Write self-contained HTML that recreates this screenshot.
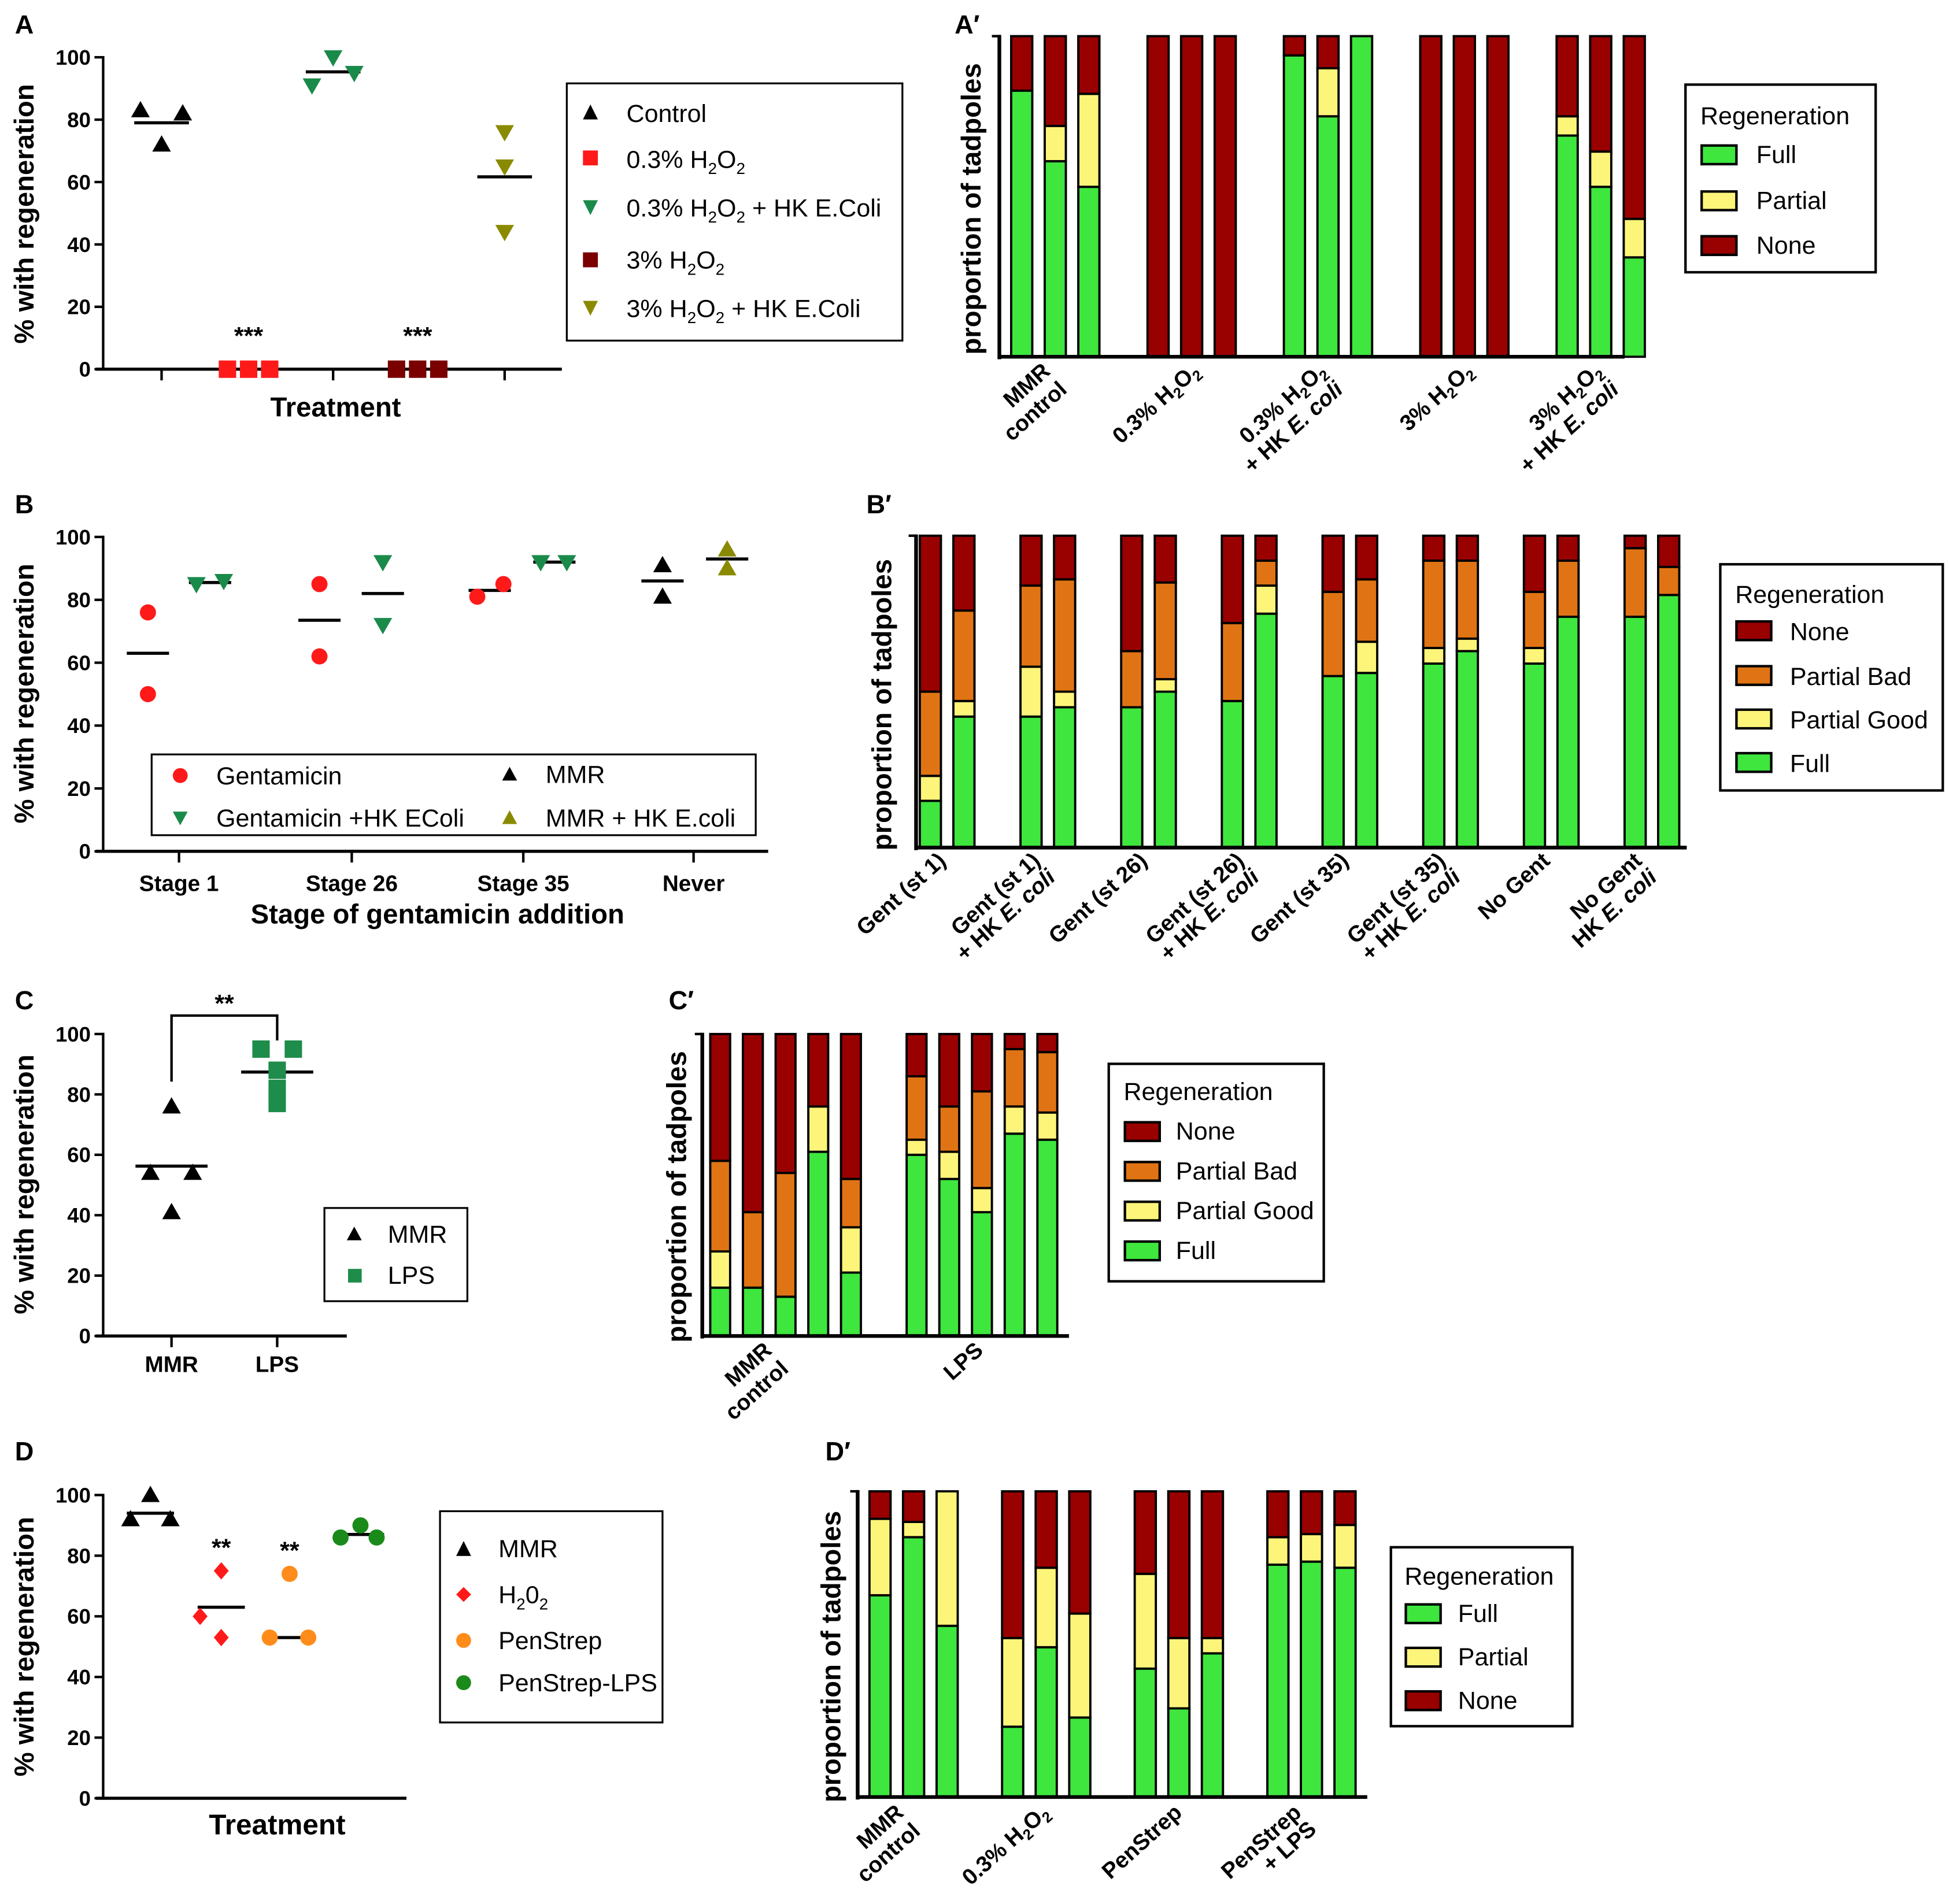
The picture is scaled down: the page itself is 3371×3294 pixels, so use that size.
<!DOCTYPE html>
<html><head><meta charset="utf-8"><style>
html,body{margin:0;padding:0;background:#fff;}
svg{display:block;font-family:"Liberation Sans",sans-serif;}
.tk{font-size:17px;font-weight:bold;}
.lg{font-size:20px;}
.ttl{font-size:22px;font-weight:bold;}
.xl{font-size:18px;font-weight:bold;}
.pl{font-size:21px;font-weight:bold;}
</style></head><body>
<svg id="fig" width="3371" height="3294" viewBox="0 0 1568 1532" xmlns="http://www.w3.org/2000/svg">
<text class="pl" x="12" y="27">A</text>
<text class="pl" x="768" y="27">A′</text>
<text class="pl" x="12" y="413">B</text>
<text class="pl" x="697" y="413">B′</text>
<text class="pl" x="12" y="812">C</text>
<text class="pl" x="538" y="812">C′</text>
<text class="pl" x="12" y="1175">D</text>
<text class="pl" x="664" y="1175">D′</text>

<text class="ttl" transform="translate(27,172) rotate(-90)" text-anchor="middle">% with regeneration</text>
<text class="ttl" transform="translate(27,558) rotate(-90)" text-anchor="middle">% with regeneration</text>
<text class="ttl" transform="translate(27,953) rotate(-90)" text-anchor="middle">% with regeneration</text>
<text class="ttl" transform="translate(27,1325) rotate(-90)" text-anchor="middle">% with regeneration</text>
<text class="ttl" transform="translate(789,168) rotate(-90)" text-anchor="middle">proportion of tadpoles</text>
<text class="ttl" transform="translate(717,567) rotate(-90)" text-anchor="middle">proportion of tadpoles</text>
<text class="ttl" transform="translate(552,963) rotate(-90)" text-anchor="middle">proportion of tadpoles</text>
<text class="ttl" transform="translate(676,1333) rotate(-90)" text-anchor="middle">proportion of tadpoles</text>

<text class="ttl" x="270" y="335" text-anchor="middle">Treatment</text>
<text class="ttl" x="352" y="743" text-anchor="middle">Stage of gentamicin addition</text>
<text class="ttl" x="223" y="1476" text-anchor="middle" style="font-size:23px">Treatment</text>

<g class="xl" text-anchor="middle">
<text x="144" y="717">Stage 1</text><text x="283" y="717">Stage 26</text><text x="421" y="717">Stage 35</text><text x="558" y="717">Never</text>
</g>
<g class="xl" text-anchor="middle">
<text x="138" y="1104">MMR</text><text x="223" y="1104">LPS</text>
</g>

<g class="lg">
<rect x="456" y="67" width="270" height="207" fill="#fff" stroke="#000" stroke-width="1.5"/>
<polygon points="475,84 469,96 481,96" fill="#000"/><text x="504" y="98">Control</text>
<rect x="469" y="121" width="12" height="12" fill="#ff1a1a"/><text x="504" y="135">0.3% H<tspan font-size="13" dy="5">2</tspan><tspan dy="-5">O</tspan><tspan font-size="13" dy="5">2</tspan></text>
<polygon points="469,161 481,161 475,173" fill="#1a8a4a"/><text x="504" y="174">0.3% H<tspan font-size="13" dy="5">2</tspan><tspan dy="-5">O</tspan><tspan font-size="13" dy="5">2</tspan><tspan dy="-5"> + HK E.Coli</tspan></text>
<rect x="469" y="203" width="12" height="12" fill="#7a0000"/><text x="504" y="216">3% H<tspan font-size="13" dy="5">2</tspan><tspan dy="-5">O</tspan><tspan font-size="13" dy="5">2</tspan></text>
<polygon points="469,242 481,242 475,254" fill="#8a8a00"/><text x="504" y="255">3% H<tspan font-size="13" dy="5">2</tspan><tspan dy="-5">O</tspan><tspan font-size="13" dy="5">2</tspan><tspan dy="-5"> + HK E.Coli</tspan></text>
</g>
<g class="lg">
<rect x="1356" y="68" width="153" height="151" fill="#fff" stroke="#000" stroke-width="2"/>
<text x="1368" y="100">Regeneration</text>
<rect x="1369" y="117" width="28" height="15" fill="#3ee63e" stroke="#000" stroke-width="2"/><text x="1413" y="131">Full</text>
<rect x="1369" y="154" width="28" height="15" fill="#fdf57a" stroke="#000" stroke-width="2"/><text x="1413" y="168">Partial</text>
<rect x="1369" y="190" width="28" height="15" fill="#990000" stroke="#000" stroke-width="2"/><text x="1413" y="204">None</text>
</g>
<g class="lg">
<rect x="122" y="607" width="486" height="65" fill="#fff" stroke="#000" stroke-width="1.5"/>
<circle cx="145" cy="624" r="6" fill="#ff1a1a"/><text x="174" y="631">Gentamicin</text>
<polygon points="139,653 151,653 145,664" fill="#1a8a4a"/><text x="174" y="665">Gentamicin +HK EColi</text>
<polygon points="410,617 404,628 416,628" fill="#000"/><text x="439" y="630">MMR</text>
<polygon points="410,652 404,663 416,663" fill="#8a8a00"/><text x="439" y="665">MMR + HK E.coli</text>
</g>
<g class="lg">
<rect x="1384" y="454" width="179" height="182" fill="#fff" stroke="#000" stroke-width="2"/>
<text x="1396" y="485">Regeneration</text>
<rect x="1397" y="500" width="28" height="15" fill="#990000" stroke="#000" stroke-width="2"/><text x="1440" y="515">None</text>
<rect x="1397" y="536" width="28" height="15" fill="#e07414" stroke="#000" stroke-width="2"/><text x="1440" y="551">Partial Bad</text>
<rect x="1397" y="571" width="28" height="15" fill="#fdf57a" stroke="#000" stroke-width="2"/><text x="1440" y="586">Partial Good</text>
<rect x="1397" y="606" width="28" height="15" fill="#3ee63e" stroke="#000" stroke-width="2"/><text x="1440" y="621">Full</text>
</g>
<g class="lg">
<rect x="261" y="972" width="115" height="75" fill="#fff" stroke="#000" stroke-width="1.5"/>
<polygon points="285,987 279,998 291,998" fill="#000"/><text x="312" y="1000">MMR</text>
<rect x="280" y="1021" width="11" height="11" fill="#1e8c4a"/><text x="312" y="1033">LPS</text>
</g>
<g class="lg">
<rect x="892" y="856" width="173" height="175" fill="#fff" stroke="#000" stroke-width="2"/>
<text x="904" y="885">Regeneration</text>
<rect x="905" y="903" width="28" height="15" fill="#990000" stroke="#000" stroke-width="2"/><text x="946" y="917">None</text>
<rect x="905" y="935" width="28" height="15" fill="#e07414" stroke="#000" stroke-width="2"/><text x="946" y="949">Partial Bad</text>
<rect x="905" y="967" width="28" height="15" fill="#fdf57a" stroke="#000" stroke-width="2"/><text x="946" y="981">Partial Good</text>
<rect x="905" y="999" width="28" height="15" fill="#3ee63e" stroke="#000" stroke-width="2"/><text x="946" y="1013">Full</text>
</g>
<g class="lg">
<rect x="354" y="1216" width="179" height="170" fill="#fff" stroke="#000" stroke-width="1.5"/>
<polygon points="373,1240 367,1252 379,1252" fill="#000"/><text x="401" y="1253">MMR</text>
<polygon points="373,1277 379,1283 373,1289 367,1283" fill="#ff1a1a"/><text x="401" y="1290">H<tspan font-size="13" dy="5">2</tspan><tspan dy="-5">0</tspan><tspan font-size="13" dy="5">2</tspan></text>
<circle cx="373" cy="1320" r="6" fill="#ff8c1a"/><text x="401" y="1327">PenStrep</text>
<circle cx="373" cy="1354" r="6" fill="#1a8a1a"/><text x="401" y="1361">PenStrep-LPS</text>
</g>
<g class="lg">
<rect x="1119" y="1245" width="146" height="144" fill="#fff" stroke="#000" stroke-width="2"/>
<text x="1130" y="1275">Regeneration</text>
<rect x="1131" y="1291" width="28" height="15" fill="#3ee63e" stroke="#000" stroke-width="2"/><text x="1173" y="1305">Full</text>
<rect x="1131" y="1326" width="28" height="15" fill="#fdf57a" stroke="#000" stroke-width="2"/><text x="1173" y="1340">Partial</text>
<rect x="1131" y="1361" width="28" height="15" fill="#990000" stroke="#000" stroke-width="2"/><text x="1173" y="1375">None</text>
</g>

<g class="xl" text-anchor="end">
<text transform="translate(846,300) rotate(-42)"><tspan x="0" dy="0">MMR</tspan><tspan x="0" dy="20">control</tspan></text>
<text transform="translate(966,300) rotate(-42)">0.3% H<tspan font-size="12" dy="4">2</tspan><tspan dy="-4">O</tspan><tspan font-size="12" dy="4">2</tspan></text>
<text transform="translate(1068,300) rotate(-42)"><tspan x="0" dy="0">0.3% H<tspan font-size="12" dy="4">2</tspan><tspan dy="-4">O</tspan><tspan font-size="12" dy="4">2</tspan></tspan><tspan x="0" dy="16">+ HK <tspan font-style="italic">E. coli</tspan></tspan></text>
<text transform="translate(1186,300) rotate(-42)">3% H<tspan font-size="12" dy="4">2</tspan><tspan dy="-4">O</tspan><tspan font-size="12" dy="4">2</tspan></text>
<text transform="translate(1290,300) rotate(-42)"><tspan x="0" dy="0">3% H<tspan font-size="12" dy="4">2</tspan><tspan dy="-4">O</tspan><tspan font-size="12" dy="4">2</tspan></tspan><tspan x="0" dy="16">+ HK <tspan font-style="italic">E. coli</tspan></tspan></text>
</g>
<g class="xl" text-anchor="end">
<text transform="translate(762,694) rotate(-42)">Gent (st 1)</text>
<text transform="translate(838,694) rotate(-42)"><tspan x="0" dy="0">Gent (st 1)</tspan><tspan x="0" dy="18">+ HK <tspan font-style="italic">E. coli</tspan></tspan></text>
<text transform="translate(924,694) rotate(-42)">Gent (st 26)</text>
<text transform="translate(1002,694) rotate(-42)"><tspan x="0" dy="0">Gent (st 26)</tspan><tspan x="0" dy="18">+ HK <tspan font-style="italic">E. coli</tspan></tspan></text>
<text transform="translate(1086,694) rotate(-42)">Gent (st 35)</text>
<text transform="translate(1164,694) rotate(-42)"><tspan x="0" dy="0">Gent (st 35)</tspan><tspan x="0" dy="18">+ HK <tspan font-style="italic">E. coli</tspan></tspan></text>
<text transform="translate(1248,694) rotate(-42)">No Gent</text>
<text transform="translate(1322,694) rotate(-42)"><tspan x="0" dy="0">No Gent</tspan><tspan x="0" dy="18">HK <tspan font-style="italic">E. coli</tspan></tspan></text>
</g>
<g class="xl" text-anchor="end">
<text transform="translate(622,1088) rotate(-42)"><tspan x="0" dy="0">MMR</tspan><tspan x="0" dy="20">control</tspan></text>
<text transform="translate(792,1088) rotate(-42)">LPS</text>
</g>
<g class="xl" text-anchor="end">
<text transform="translate(728,1460) rotate(-42)"><tspan x="0" dy="0">MMR</tspan><tspan x="0" dy="20">control</tspan></text>
<text transform="translate(845,1460) rotate(-42)">0.3% H<tspan font-size="12" dy="4">2</tspan><tspan dy="-4">O</tspan><tspan font-size="12" dy="4">2</tspan></text>
<text transform="translate(952,1460) rotate(-42)">PenStrep</text>
<text transform="translate(1048,1460) rotate(-42)"><tspan x="0" dy="0">PenStrep</tspan><tspan x="0" dy="18">+ LPS</tspan></text>
</g>
</svg>
<script>
const yTicks=[0,20,40,60,80,100];
const A_cats=['Control','0.3% H2O2','0.3% H2O2 + HK E.Coli','3% H2O2','3% H2O2 + HK E.Coli'];
const A_vals=[[83,72,82],[0,0,0],[91,100,95],[0,0,0],[76,65,44]];
const A_sig=['','***','','***',''];
const B_stages=['Stage 1','Stage 26','Stage 35','Never'];
const B_gent=[[76,50],[85,62],[81,85],[]];
const B_gentHK=[[85,86],[92,72],[92,92],[]];
const B_mmr=[[],[],[],[91,81]];
const B_mmrHK=[[],[],[],[96,90]];
const C_cats=['MMR','LPS'];
const C_mmr=[76,54,54,41];
const C_lps=[95,95,88,82,77];
const D_cats=['MMR','H2O2','PenStrep','PenStrep-LPS'];
const D_vals=[[92,100,92],[75,60,53],[74,53,53],[86,90,86]];
const D_center=[94,63,53,87];
const D_sig=['','**','**',''];
const Ap_full=[0.83,0.61,0.53,0,0,0,0.94,0.75,1,0,0,0,0.69,0.53,0.31];
const Ap_partial=[0,0.11,0.29,0,0,0,0,0.15,0,0,0,0,0.06,0.11,0.12];
const Bp_full=[0.15,0.42,0.42,0.45,0.45,0.5,0.47,0.75,0.55,0.56,0.59,0.63,0.59,0.74,0.74,0.81];
const Bp_good=[0.08,0.05,0.16,0.05,0,0.04,0,0.09,0,0.1,0.05,0.04,0.05,0,0,0];
const Bp_bad=[0.27,0.29,0.26,0.36,0.18,0.31,0.25,0.08,0.27,0.2,0.28,0.25,0.18,0.18,0.22,0.09];
const Cp_full=[0.16,0.16,0.13,0.61,0.21,0.6,0.52,0.41,0.67,0.65];
const Cp_good=[0.12,0,0,0.15,0.15,0.05,0.09,0.08,0.09,0.09];
const Cp_bad=[0.30,0.25,0.41,0,0.16,0.21,0.15,0.32,0.19,0.2];
const Dp_full=[0.66,0.85,0.56,0.23,0.49,0.26,0.42,0.29,0.47,0.76,0.77,0.75];
const Dp_partial=[0.25,0.05,0.44,0.29,0.26,0.34,0.31,0.23,0.05,0.09,0.09,0.14];

const svg=document.getElementById('fig');
const NS='http://www.w3.org/2000/svg';
function el(tag,attrs,name,parent){
  const e=document.createElementNS(NS,tag);
  for(const k in attrs) e.setAttribute(k,attrs[k]);
  
  
  (parent||svg).appendChild(e);
  return e;
}
const C={red:'#ff1a1a',green:'#1a8a4a',olive:'#8a8a00',dred:'#7a0000',black:'#000',lps:'#1e8c4a',orange:'#ff8c1a',pgreen:'#1a8a1a'};
const BC={full:'#3ee63e',good:'#fdf57a',bad:'#e07414',none:'#990000'};
function marker(type,x,y,color,name){
  const s=7.5;
  if(type==='up') return el('polygon',{points:`${x},${y-s} ${x-s},${y+s*0.75} ${x+s},${y+s*0.75}`,fill:color},name);
  if(type==='down') return el('polygon',{points:`${x-s},${y-s*0.75} ${x+s},${y-s*0.75} ${x},${y+s}`,fill:color},name);
  if(type==='sq') return el('rect',{x:x-7,y:y-7,width:14,height:14,fill:color},name);
  if(type==='circ') return el('circle',{cx:x,cy:y,r:6.5,fill:color},name);
  if(type==='dia') return el('polygon',{points:`${x},${y-7} ${x+6},${y} ${x},${y+7} ${x-6},${y}`,fill:color},name);
}
function scatterAxes(p,ax,y0,y100,xEnd,xTicks){
  const ys=v=>y0-v/100*(y0-y100);
  el('line',{x1:ax,y1:y100-1,x2:ax,y2:y0,stroke:'#000','stroke-width':2},p+'-y-axis');
  el('line',{x1:ax-6,y1:y0,x2:xEnd,y2:y0,stroke:'#000','stroke-width':2.5},p+'-x-axis');
  yTicks.forEach(t=>{
    el('line',{x1:ax-7,y1:ys(t),x2:ax,y2:ys(t),stroke:'#000','stroke-width':2},p+'-y-tick');
    const tx=el('text',{x:ax-10,y:ys(t)+6,'text-anchor':'end',class:'tk'},p+'-y-tick-label');
    tx.textContent=t;
  });
  xTicks.forEach(x=>el('line',{x1:x,y1:y0,x2:x,y2:y0+9,stroke:'#000','stroke-width':2},p+'-x-tick'));
  return ys;
}
function meanLine(x,y,half,name){el('line',{x1:x-half,y1:y,x2:x+half,y2:y,stroke:'#000','stroke-width':2.5},name);}
const mean=a=>a.reduce((s,v)=>s+v,0)/a.length;

{
  const cx=[130,200,268,336,406];
  const ys=scatterAxes('a',83,297,46,452,[130,268,406]);
  const jit=[[-17,0,17],[-17,0,17],[-17,0,17],[-17,0,17],[0,0,0]];
  const types=['up','sq','down','sq','down'];
  const cols=[C.black,C.red,C.green,C.dred,C.olive];
  A_vals.forEach((vals,i)=>{
    if(i!==1&&i!==3) meanLine(cx[i],ys(mean(vals)),22,'a-mean-line');
    vals.forEach((v,j)=>marker(types[i],cx[i]+jit[i][j],ys(v),cols[i],'a-point'));
    if(A_sig[i]){const t=el('text',{x:cx[i],y:ys(0)-20,'text-anchor':'middle',style:'font-size:20px;font-weight:bold'},'a-significance');t.textContent=A_sig[i];}
  });
}
{
  const cx=[144,283,421,558];
  const ys=scatterAxes('b',83,685,432,618,cx);
  const series=[
    {d:B_gent,t:'circ',c:C.red,off:[[-25,-25],[-26,-26],[-37,-16],[]],m:[-25,-26,-27,0]},
    {d:B_gentHK,t:'down',c:C.green,off:[[14,36],[25,25],[14,35],[]],m:[25,25,25,0]},
    {d:B_mmr,t:'up',c:C.black,off:[[],[],[],[-25,-25]],m:[0,0,0,-25]},
    {d:B_mmrHK,t:'up',c:C.olive,off:[[],[],[],[27,27]],m:[0,0,0,27]}
  ];
  series.forEach(s=>{
    s.d.forEach((vals,i)=>{
      if(!vals.length) return;
      meanLine(cx[i]+s.m[i],ys(mean(vals)),17,'b-mean-line');
      vals.forEach((v,j)=>marker(s.t,cx[i]+s.off[i][j],ys(v),s.c,'b-point'));
    });
  });
}
{
  const cx=[138,223];
  const ys=scatterAxes('c',83,1075,832,279,cx);
  const mo=[0,-17,17,0];
  meanLine(cx[0],ys(mean(C_mmr)),29,'c-mean-line');
  C_mmr.forEach((v,j)=>marker('up',cx[0]+mo[j],ys(v),C.black,'c-point-mmr'));
  const lo=[-13,13,0,0,0];
  meanLine(cx[1],ys(mean(C_lps)),29,'c-mean-line');
  C_lps.forEach((v,j)=>marker('sq',cx[1]+lo[j],ys(v),C.lps,'c-point-lps'));
  const top=ys(Math.max(...C_lps))-27;
  el('polyline',{points:`${cx[0]},${ys(Math.max(...C_mmr))-20} ${cx[0]},${top} ${cx[1]},${top} ${cx[1]},${top+20}`,fill:'none',stroke:'#000','stroke-width':2},'c-significance-bracket');
  const t=el('text',{x:(cx[0]+cx[1])/2,y:top-3,'text-anchor':'middle',style:'font-size:20px;font-weight:bold'},'c-significance');
  t.textContent='**';
}
{
  const cx=[121,178,233,290];
  const ys=scatterAxes('d',83,1447,1203,327,[]);
  const off=[[-16,0,16],[0,-17,0],[0,-16,15],[-16,0,13]];
  const types=['up','dia','circ','circ'];
  const cols=[C.black,C.red,C.orange,C.pgreen];
  D_vals.forEach((vals,i)=>{
    meanLine(cx[i],ys(D_center[i]),19,'d-center-line');
    vals.forEach((v,j)=>marker(types[i],cx[i]+off[i][j],ys(v),cols[i],'d-point'));
    if(D_sig[i]){const t=el('text',{x:cx[i],y:ys(Math.max(...vals))-12,'text-anchor':'middle',style:'font-size:20px;font-weight:bold'},'d-significance');t.textContent=D_sig[i];}
  });
}
function stacked(p,ax,top,bot,xEnd,xs,w,layers){
  const h=bot-top;
  xs.forEach((x,i)=>{
    let acc=0;
    layers.forEach(L=>{
      const v=L.vals?L.vals[i]:Math.max(0,1-acc);
      if(v>0.001){
        el('rect',{x:x-w/2,y:bot-(acc+v)*h,width:w,height:v*h,fill:L.c,stroke:'#000','stroke-width':1.8},p+'-bar-'+L.n);
      }
      acc+=v;
    });
  });
  el('line',{x1:ax,y1:top-1,x2:ax,y2:bot+2,stroke:'#000','stroke-width':3},p+'-y-axis');
  el('line',{x1:ax,y1:bot,x2:xEnd,y2:bot,stroke:'#000','stroke-width':3},p+'-x-axis');
  el('line',{x1:ax-6,y1:top,x2:ax,y2:top,stroke:'#000','stroke-width':2},p+'-y-tick');
}
function groupX(first,step,nGroups,perGroup,gap){
  const out=[];
  for(let g=0;g<nGroups;g++)for(let b=0;b<perGroup;b++)out.push(first+g*step+(b-(perGroup-1)/2)*gap);
  return out;
}
stacked('a-prime',804,29,287,1307,groupX(849,109.7,5,3,27),17,[
  {n:'full',c:BC.full,vals:Ap_full},{n:'partial',c:BC.good,vals:Ap_partial},{n:'none',c:BC.none}]);
stacked('b-prime',737,431,682,1357,groupX(762,81,8,2,27),17,[
  {n:'full',c:BC.full,vals:Bp_full},{n:'partial-good',c:BC.good,vals:Bp_good},{n:'partial-bad',c:BC.bad,vals:Bp_bad},{n:'none',c:BC.none}]);
stacked('c-prime',565,832,1075,860,groupX(632,158,2,5,26.3),16,[
  {n:'full',c:BC.full,vals:Cp_full},{n:'partial-good',c:BC.good,vals:Cp_good},{n:'partial-bad',c:BC.bad,vals:Cp_bad},{n:'none',c:BC.none}]);
stacked('d-prime',690,1200,1446,1100,groupX(735,106.7,4,3,27),17,[
  {n:'full',c:BC.full,vals:Dp_full},{n:'partial',c:BC.good,vals:Dp_partial},{n:'none',c:BC.none}]);
</script>
</body></html>
